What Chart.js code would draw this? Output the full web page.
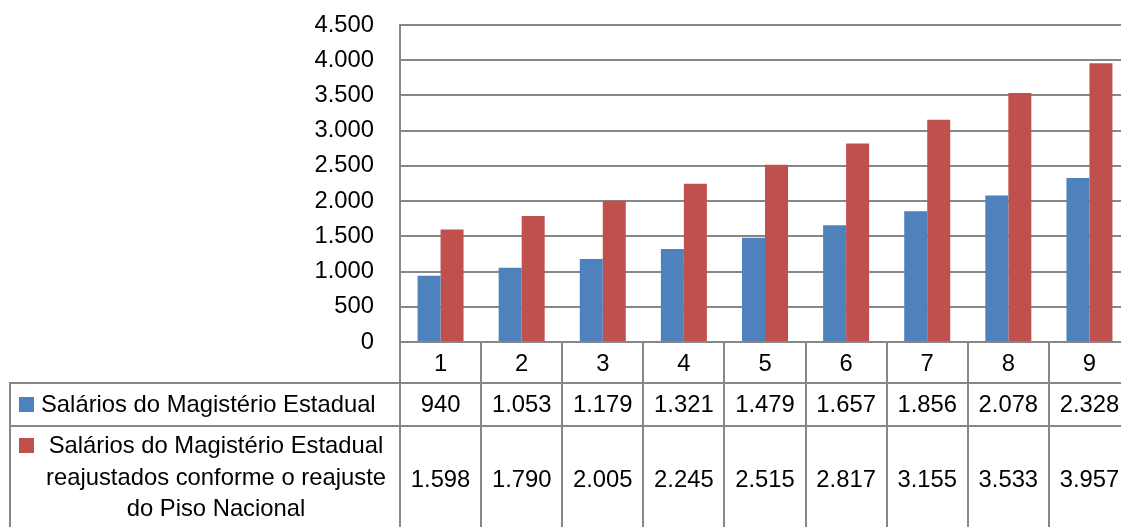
<!DOCTYPE html>
<html>
<head>
<meta charset="utf-8">
<script src="https://cdn.jsdelivr.net/npm/chart.js@4/dist/chart.umd.min.js"></script>
<style>
  html, body { margin: 0; padding: 0; background: #fff; overflow: hidden; }
  #wrap { width: 1130px; height: 527px; }
</style>
</head>
<body>
<div id="wrap"><canvas id="c" width="1130" height="527"></canvas></div>
<script>
const categories = ['1', '2', '3', '4', '5', '6', '7', '8', '9'];
const seriesNames = [
  ['Salários do Magistério Estadual'],
  ['Salários do Magistério Estadual', 'reajustados conforme o reajuste', 'do Piso Nacional']
];
const salarios = [940, 1053, 1179, 1321, 1479, 1657, 1856, 2078, 2328];
const reajustados = [1598, 1790, 2005, 2245, 2515, 2817, 3155, 3533, 3957];
const yTicks = [0, 500, 1000, 1500, 2000, 2500, 3000, 3500, 4000, 4500];
const colors = ['#4F81BD', '#C0504D'];

const FONT = '"Liberation Sans", Arial, sans-serif';
const FS = 23.8;
const GRID = '#878787';

function fmt(v) {
  return String(Math.round(v)).replace(/\B(?=(\d{3})+(?!\d))/g, '.');
}

const tablePlugin = {
  id: 'dataTable',
  afterDraw(chart) {
    const ctx = chart.ctx;
    const xs = chart.scales.x;
    const area = chart.chartArea;
    const H = chart.height;
    const right = area.right;
    const row1Bottom = 383, row2Bottom = 426, tableLeft = 10;
    ctx.save();
    ctx.strokeStyle = GRID;
    ctx.lineWidth = 2;
    ctx.beginPath();
    ctx.moveTo(tableLeft, row1Bottom); ctx.lineTo(right, row1Bottom);
    ctx.moveTo(tableLeft, row2Bottom); ctx.lineTo(right, row2Bottom);
    ctx.moveTo(tableLeft, row1Bottom - 1); ctx.lineTo(tableLeft, H);
    ctx.stroke();

    ctx.fillStyle = '#000';
    ctx.font = FS + 'px ' + FONT;
    ctx.textBaseline = 'alphabetic';
    ctx.textAlign = 'center';
    const data = chart.data.datasets;
    categories.forEach((lab, i) => {
      const cx = xs.getPixelForValue(i);
      ctx.fillText(lab, cx, 371);
      ctx.fillText(fmt(data[0].data[i]), cx, 412);
      ctx.fillText(fmt(data[1].data[i]), cx, 487);
    });

    // legend keys
    ctx.fillStyle = colors[0];
    ctx.fillRect(19, 397, 15, 15);
    ctx.fillStyle = colors[1];
    ctx.fillRect(19, 438, 15, 15);

    ctx.fillStyle = '#000';
    ctx.textAlign = 'left';
    ctx.fillText(seriesNames[0][0], 41, 412);
    ctx.textAlign = 'center';
    const baselines = [453, 485, 516];
    seriesNames[1].forEach((t, k) => ctx.fillText(t, 216, baselines[k]));
    ctx.restore();
  }
};

new Chart(document.getElementById('c'), {
  type: 'bar',
  data: {
    labels: categories,
    datasets: [
      { label: seriesNames[0].join(' '), data: salarios, backgroundColor: colors[0], borderWidth: 0 },
      { label: seriesNames[1].join(' '), data: reajustados, backgroundColor: colors[1], borderWidth: 0 }
    ]
  },
  options: {
    responsive: false,
    animation: false,
    events: [],
    layout: { padding: { top: 25, left: 0, right: 0, bottom: 0 } },
    plugins: { legend: { display: false }, tooltip: { enabled: false } },
    datasets: { bar: { categoryPercentage: 0.567, barPercentage: 1 } },
    scales: {
      x: {
        offset: true,
        grid: { offset: true, drawOnChartArea: false, drawTicks: true, tickLength: 185, color: GRID, lineWidth: 2 },
        border: { display: true, color: GRID, width: 2 },
        ticks: { display: false },
        afterFit(s) { s.height = 185; s.paddingLeft = 0; s.paddingRight = 0; }
      },
      y: {
        min: 0, max: 4500,
        afterBuildTicks(s) { s.ticks = yTicks.map(v => ({ value: v })); },
        grid: { drawTicks: false, color: GRID, lineWidth: 2 },
        border: { display: true, color: GRID, width: 2 },
        ticks: {
          padding: 26,
          color: '#000',
          font: { family: FONT, size: FS },
          callback: v => fmt(v)
        },
        afterFit(s) { s.width = 400; s.paddingTop = 0; s.paddingBottom = 0; }
      }
    }
  },
  plugins: [tablePlugin]
});
</script>
</body>
</html>
